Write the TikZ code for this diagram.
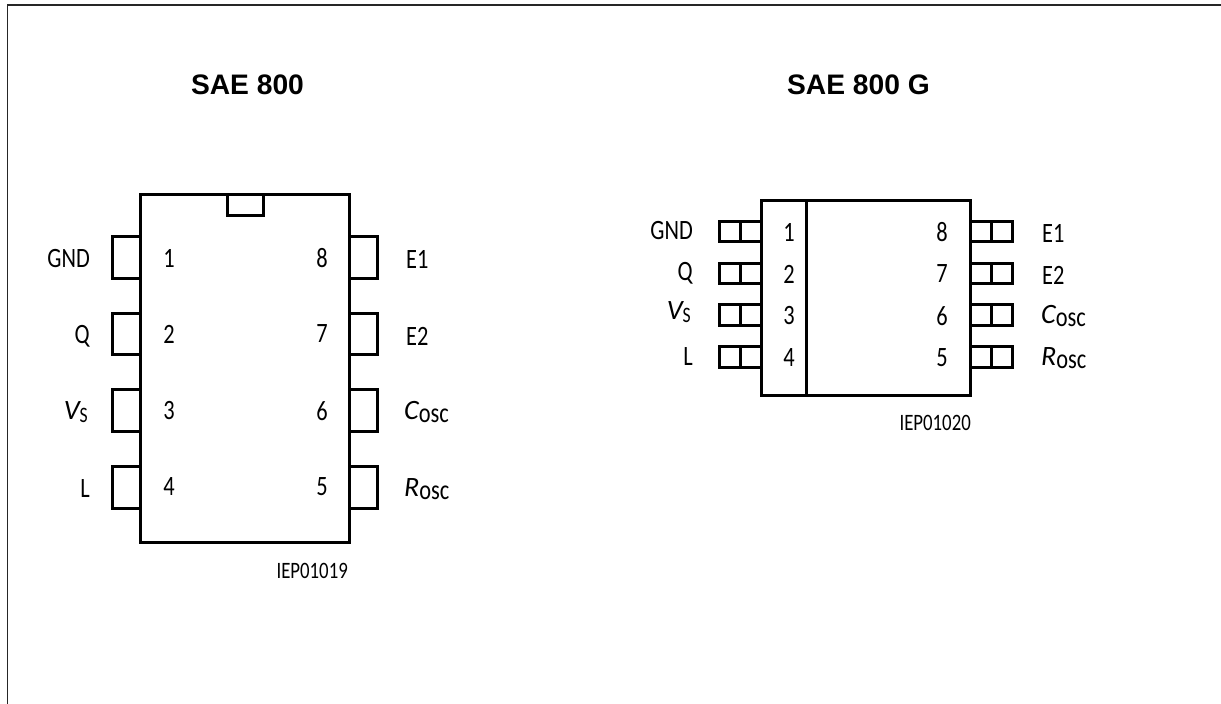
\documentclass[tikz,border=0pt]{standalone}
\usepackage{fontspec}
\setmainfont{Liberation Sans}
\newfontfamily\pinfont[FakeStretch=0.8]{Carlito}
\newfontfamily\pinitfont{Carlito}
\newcommand{\lowtext}[2]{\raisebox{-3pt}{\fontsize{#1}{#1}\selectfont #2}}
\newcommand{\bigital}[1]{{\pinitfont\itshape #1}}
\tikzset{
    outline/.style={line width=3pt,line join=miter},
    frameline/.style={line width=1.5pt,black!85},
    pinlabel/.style={inner sep=0pt,font=\pinfont\fontsize{28}{28}\selectfont},
    smalllabel/.style={inner sep=0pt,font=\pinfont\fontsize{23.5}{23.5}\selectfont},
    titlelabel/.style={inner sep=0pt,font=\bfseries\fontsize{28.2}{28.2}\selectfont},
}
\begin{document}
\begin{tikzpicture}[x=1pt,y=-1pt]
    \useasboundingbox (0,0) rectangle (1221,704);
    \draw[frameline] (7.5,704) -- (7.5,5) -- (1221,5);
    \node[titlelabel] (title0) at (247.5,85) {SAE 800};
    \node[titlelabel] (title1) at (858.5,85) {SAE 800 G};

    \node[draw,outline,minimum width=209.5pt,minimum height=348pt,inner sep=0pt] (dip) at (244.75,368) {};
    \draw[outline] (227,194) -- (227,215) -- (263,215) -- (263,194);
    \draw[outline] (140,236) -- (112.5,236) -- (112.5,278) -- (140,278);
    \draw[outline] (140,313) -- (112.5,313) -- (112.5,354) -- (140,354);
    \draw[outline] (140,389) -- (112.5,389) -- (112.5,431) -- (140,431);
    \draw[outline] (140,466) -- (112.5,466) -- (112.5,508) -- (140,508);
    \draw[outline] (349.5,236) -- (377.5,236) -- (377.5,278) -- (349.5,278);
    \draw[outline] (349.5,313) -- (377.5,313) -- (377.5,354) -- (349.5,354);
    \draw[outline] (349.5,389) -- (377.5,389) -- (377.5,431) -- (349.5,431);
    \draw[outline] (349.5,466) -- (377.5,466) -- (377.5,508) -- (349.5,508);
    \node[pinlabel] (dip1) at (169,258) {1};
    \node[pinlabel] (dip2) at (169,334) {2};
    \node[pinlabel] (dip3) at (169,411) {3};
    \node[pinlabel] (dip4) at (169,487) {4};
    \node[pinlabel] (dip8) at (322,258) {8};
    \node[pinlabel] (dip7) at (322,334) {7};
    \node[pinlabel] (dip6) at (322,411) {6};
    \node[pinlabel] (dip5) at (322,487) {5};
    \node[pinlabel,anchor=east] (dipgnd) at (90,259) {GND};
    \node[pinlabel,anchor=east] (dipq) at (90,336) {Q};
    \node[pinlabel,anchor=east] (dipvs) at (88,412) {\bigital{V}\lowtext{22}{S}};
    \node[pinlabel,anchor=east] (dipl) at (90,489) {L};
    \node[pinlabel,anchor=west] (dipe1) at (406,259) {E1};
    \node[pinlabel,anchor=west] (dipe2) at (406,336) {E2};
    \node[pinlabel,anchor=west] (dipc) at (404,412) {\bigital{C}\lowtext{28}{osc}};
    \node[pinlabel,anchor=west] (dipr) at (404,489) {\bigital{R}\lowtext{28}{osc}};
    \node[smalllabel,anchor=east] (dipcode) at (348,571) {IEP01019};

    \node[draw,outline,minimum width=209pt,minimum height=194.5pt,inner sep=0pt] (smd) at (866.25,298) {};
    \draw[outline] (806,200.75) -- (806,395.25);
    \draw[outline] (761.75,221) -- (719.5,221) -- (719.5,241.5) -- (761.75,241.5) (740,221) -- (740,241.5);
    \draw[outline] (761.75,263) -- (719.5,263) -- (719.5,283.5) -- (761.75,283.5) (740,263) -- (740,283.5);
    \draw[outline] (761.75,304.5) -- (719.5,304.5) -- (719.5,325) -- (761.75,325) (740,304.5) -- (740,325);
    \draw[outline] (761.75,346.5) -- (719.5,346.5) -- (719.5,367) -- (761.75,367) (740,346.5) -- (740,367);
    \draw[outline] (970.75,221) -- (1012.5,221) -- (1012.5,241.5) -- (970.75,241.5) (991.5,221) -- (991.5,241.5);
    \draw[outline] (970.75,263) -- (1012.5,263) -- (1012.5,283.5) -- (970.75,283.5) (991.5,263) -- (991.5,283.5);
    \draw[outline] (970.75,304.5) -- (1012.5,304.5) -- (1012.5,325) -- (970.75,325) (991.5,304.5) -- (991.5,325);
    \draw[outline] (970.75,346.5) -- (1012.5,346.5) -- (1012.5,367) -- (970.75,367) (991.5,346.5) -- (991.5,367);
    \node[pinlabel] (smd1) at (789,232) {1};
    \node[pinlabel] (smd2) at (789,274) {2};
    \node[pinlabel] (smd3) at (789,316) {3};
    \node[pinlabel] (smd4) at (789,358) {4};
    \node[pinlabel] (smd8) at (942,232) {8};
    \node[pinlabel] (smd7) at (942,274) {7};
    \node[pinlabel] (smd6) at (942,316) {6};
    \node[pinlabel] (smd5) at (942,358) {5};
    \node[pinlabel,anchor=east] (smdgnd) at (693,231) {GND};
    \node[pinlabel,anchor=east] (smdq) at (693,273) {Q};
    \node[pinlabel,anchor=east] (smdvs) at (691,312) {\bigital{V}\lowtext{22}{S}};
    \node[pinlabel,anchor=east] (smdl) at (693,357) {L};
    \node[pinlabel,anchor=west] (smde1) at (1042,233) {E1};
    \node[pinlabel,anchor=west] (smde2) at (1042,275) {E2};
    \node[pinlabel,anchor=west] (smdc) at (1041,316) {\bigital{C}\lowtext{28}{osc}};
    \node[pinlabel,anchor=west] (smdr) at (1041,358) {\bigital{R}\lowtext{28}{osc}};
    \node[smalllabel,anchor=east] (smdcode) at (971,423) {IEP01020};
\end{tikzpicture}
\end{document}
